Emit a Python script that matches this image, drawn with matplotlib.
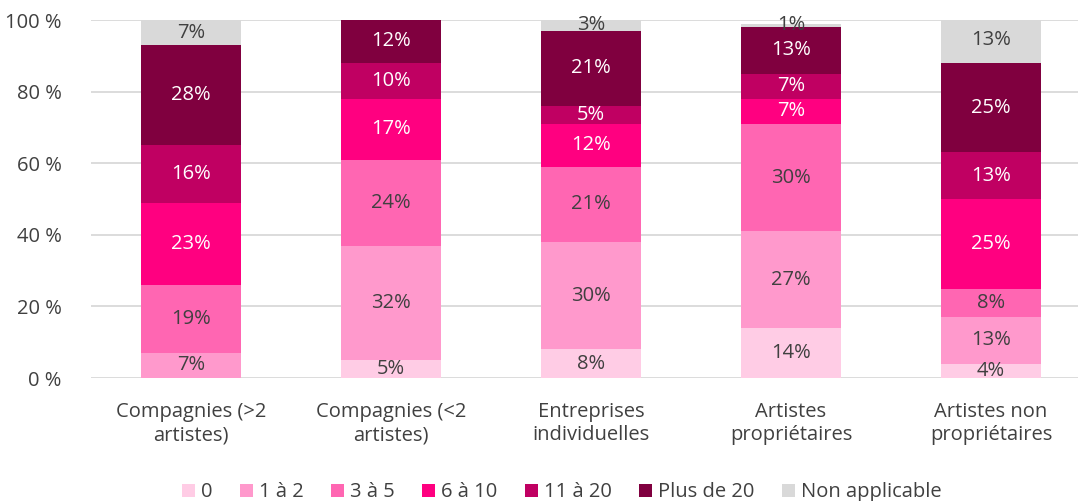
import numpy as np
import matplotlib.pyplot as plt

plt.rcParams['font.family'] = ['Open Sans', 'DejaVu Sans']

categories = ["Compagnies (>2\nartistes)", "Compagnies (<2\nartistes)",
              "Entreprises\nindividuelles", "Artistes\npropriétaires",
              "Artistes non\npropriétaires"]
series = ["0", "1 à 2", "3 à 5", "6 à 10", "11 à 20", "Plus de 20", "Non applicable"]

s_0 = [0, 5, 8, 14, 4]
s_1_2 = [7, 32, 30, 27, 13]
s_3_5 = [19, 24, 21, 30, 8]
s_6_10 = [23, 17, 12, 7, 25]
s_11_20 = [16, 10, 5, 7, 13]
s_plus20 = [28, 12, 21, 13, 25]
s_na = [7, 0, 3, 1, 13]

values = [s_0, s_1_2, s_3_5, s_6_10, s_11_20, s_plus20, s_na]
colors = ["#FFCCE5", "#FF99CC", "#FF66B2", "#FF0080", "#C00062", "#80003F", "#D9D9D9"]
text_colors = ["#404040", "#404040", "#404040", "white", "white", "white", "#404040"]
text_dark = "#404040"

fig = plt.figure(figsize=(10.78, 5.01), dpi=100)
ax = fig.add_axes([91 / 1078, 123 / 501, 987 / 1078, 358 / 501])

x = np.arange(len(categories))
bottom = np.zeros(len(categories))
for vals, name, col, tcol in zip(values, series, colors, text_colors):
    vals = np.array(vals, dtype=float)
    ax.bar(x, vals, 0.5, bottom=bottom, color=col, label=name, zorder=2)
    for xi, v, b in zip(x, vals, bottom):
        if v > 0:
            ax.text(xi, b + v / 2, f"{v:.0f}%", ha='center', va='center',
                    color=tcol, fontsize=14.5, zorder=3)
    bottom += vals

ax.set_xlim(-0.5, 4.435)
ax.set_ylim(0, 100)
ax.set_yticks(range(0, 101, 20))
ax.set_yticklabels([f"{v} %" for v in range(0, 101, 20)])
ax.set_xticks(x)
ax.set_xticklabels(categories, linespacing=1.25)
ax.tick_params(length=0, labelsize=14.5, colors=text_dark)
ax.tick_params(axis='y', pad=21)
ax.tick_params(axis='x', pad=17)
ax.yaxis.grid(True, color="#D9D9D9", linewidth=1.3, zorder=0)
for sp in ax.spines.values():
    sp.set_visible(False)

ax.legend(loc='lower center', bbox_to_anchor=(0.477, -0.37), ncol=7,
          frameon=False, fontsize=14.5, handlelength=0.65, handleheight=0.65,
          handletextpad=0.3, columnspacing=1.35, labelcolor=text_dark,
          borderaxespad=0)

fig.savefig("out.png", dpi=100)
